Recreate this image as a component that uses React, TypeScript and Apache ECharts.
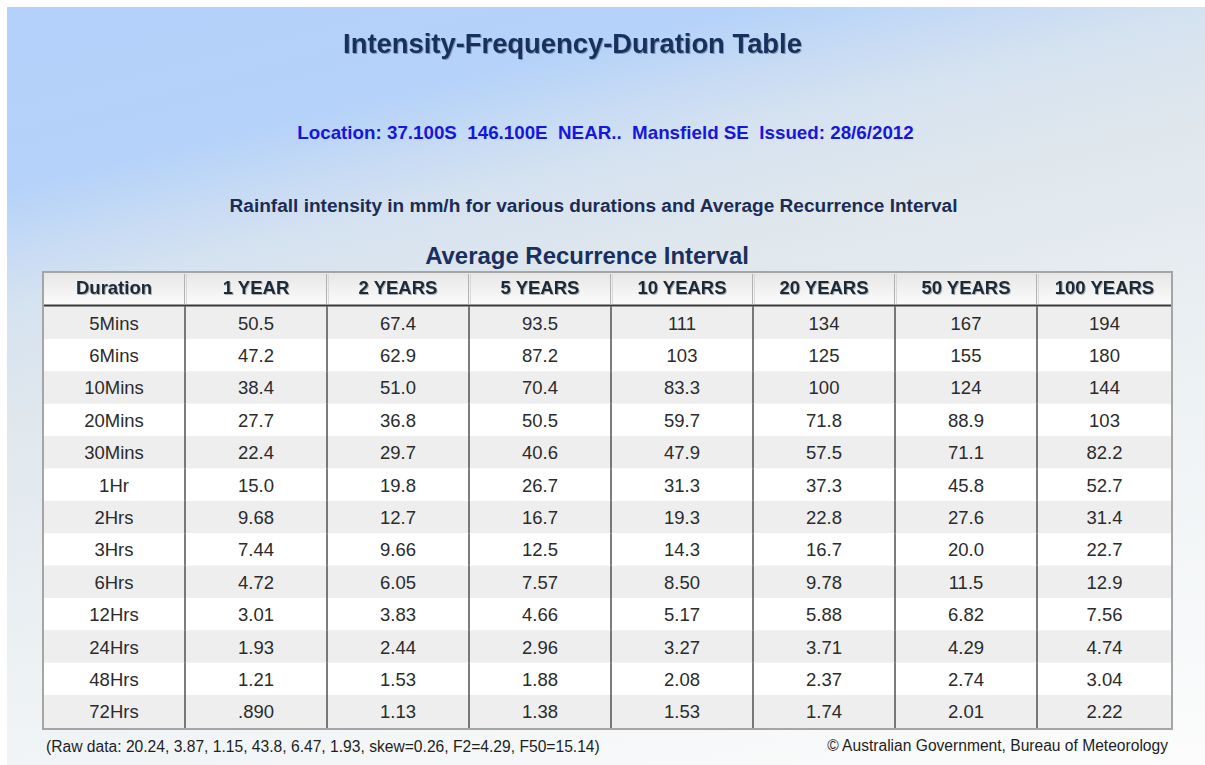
import React, { useEffect, useRef } from "react";
import * as echarts from "echarts";

// ---- texts ----
const TITLE = "Intensity-Frequency-Duration Table";
const LOCATION = "Location: 37.100S  146.100E  NEAR..  Mansfield SE  Issued: 28/6/2012";
const SUBTITLE = "Rainfall intensity in mm/h for various durations and Average Recurrence Interval";
const CAPTION = "Average Recurrence Interval";
const RAW_NOTE = "(Raw data: 20.24, 3.87, 1.15, 43.8, 6.47, 1.93, skew=0.26, F2=4.29, F50=15.14)";
const COPYRIGHT = "© Australian Government, Bureau of Meteorology";

// ---- data ----
const durationHeader = "Duration";
const recurrenceIntervals = ["1 YEAR", "2 YEARS", "5 YEARS", "10 YEARS", "20 YEARS", "50 YEARS", "100 YEARS"];
const durations = ["5Mins", "6Mins", "10Mins", "20Mins", "30Mins", "1Hr", "2Hrs", "3Hrs", "6Hrs", "12Hrs", "24Hrs", "48Hrs", "72Hrs"];
const ari1 = ["50.5", "47.2", "38.4", "27.7", "22.4", "15.0", "9.68", "7.44", "4.72", "3.01", "1.93", "1.21", ".890"];
const ari2 = ["67.4", "62.9", "51.0", "36.8", "29.7", "19.8", "12.7", "9.66", "6.05", "3.83", "2.44", "1.53", "1.13"];
const ari5 = ["93.5", "87.2", "70.4", "50.5", "40.6", "26.7", "16.7", "12.5", "7.57", "4.66", "2.96", "1.88", "1.38"];
const ari10 = ["111", "103", "83.3", "59.7", "47.9", "31.3", "19.3", "14.3", "8.50", "5.17", "3.27", "2.08", "1.53"];
const ari20 = ["134", "125", "100", "71.8", "57.5", "37.3", "22.8", "16.7", "9.78", "5.88", "3.71", "2.37", "1.74"];
const ari50 = ["167", "155", "124", "88.9", "71.1", "45.8", "27.6", "20.0", "11.5", "6.82", "4.29", "2.74", "2.01"];
const ari100 = ["194", "180", "144", "103", "82.2", "52.7", "31.4", "22.7", "12.9", "7.56", "4.74", "3.04", "2.22"];

const columnHeaders = [durationHeader, ...recurrenceIntervals];
const columns = [durations, ari1, ari2, ari5, ari10, ari20, ari50, ari100];

// ---- layout ----
const FONT = "'Liberation Sans', Arial, Helvetica, sans-serif";
const TABLE_LEFT = 43;
const TABLE_RIGHT = 1172;
const TABLE_TOP = 272;
const HEADER_H = 34;
const BODY_TOP = 306.5;
const BODY_BOTTOM = 727.5;
const TABLE_BOTTOM = 729;
const CELL_W = 142;

function fitSize(text: string, weight: string, width: number): number {
  const ctx = document.createElement("canvas").getContext("2d");
  if (!ctx) return 16;
  ctx.font = `${weight} 100px ${FONT}`;
  const w = ctx.measureText(text).width;
  return w > 0 ? (100 * width) / w : 16;
}

export default function App() {
  const ref = useRef<HTMLDivElement>(null);

  useEffect(() => {
    document.body.style.margin = "0";
    if (!ref.current) return;
    const chart = echarts.init(ref.current, null, { renderer: "svg" });

    const titleSize = fitSize(TITLE, "bold", 459);
    const locSize = fitSize(LOCATION, "bold", 617);
    const subSize = fitSize(SUBTITLE, "bold", 729);
    const capSize = fitSize(CAPTION, "bold", 324);
    const rawSize = fitSize(RAW_NOTE, "normal", 554);
    const copySize = fitSize(COPYRIGHT, "normal", 342);

    const bodyData: number[][] = [];
    for (let r = 0; r < durations.length; r++) {
      for (let c = 0; c < columns.length; c++) bodyData.push([c, r]);
    }
    const headerData = columnHeaders.map((_, c) => [c, 0]);

    const cellBox = (api: any) => {
      const c = api.value(0) as number;
      const r = api.value(1) as number;
      const pt = api.coord([c, r]);
      const sz = api.size([1, 1]);
      const x0 = pt[0] - sz[0] / 2;
      const x1 = Math.min(pt[0] + sz[0] / 2, TABLE_RIGHT);
      const y0 = pt[1] - sz[1] / 2;
      return { c, r, x0, x1, y0, h: sz[1], cy: pt[1] };
    };

    const bg = new echarts.graphic.LinearGradient(
      0, 0, 246, 1000,
      [
        { offset: 0, color: "#b3d1fb" },
        { offset: 0.18, color: "#b5d2f9" },
        { offset: 0.29, color: "#d5e2f0" },
        { offset: 0.39, color: "#dfe7ed" },
        { offset: 0.68, color: "#eff3f5" },
        { offset: 1, color: "#fcfcfc" },
      ],
      true
    );

    const option: any = {
      animation: false,
      grid: [
        { left: TABLE_LEFT, top: TABLE_TOP, width: CELL_W * columns.length, height: HEADER_H },
        { left: TABLE_LEFT, top: BODY_TOP, width: CELL_W * columns.length, height: BODY_BOTTOM - BODY_TOP },
      ],
      xAxis: [
        { type: "category", gridIndex: 0, data: columnHeaders, show: false },
        { type: "category", gridIndex: 1, data: columnHeaders, show: false },
      ],
      yAxis: [
        { type: "category", gridIndex: 0, data: ["header"], show: false },
        { type: "category", gridIndex: 1, data: durations, inverse: true, show: false },
      ],
      graphic: [
        { type: "rect", z: -10, shape: { x: 0, y: 0, width: 1205, height: 765 }, style: { fill: "#ffffff" } },
        { type: "rect", z: -9, shape: { x: 7, y: 7, width: 1198, height: 758 }, style: { fill: bg } },
        {
          type: "text", z: 5, x: 572.5, y: 43,
          style: {
            text: TITLE, fontFamily: FONT, fontWeight: "bold", fontSize: titleSize, fill: "#14305c",
            align: "center", verticalAlign: "middle",
            textShadowColor: "rgba(60,70,90,0.45)", textShadowBlur: 1, textShadowOffsetX: 1, textShadowOffsetY: 1,
          },
        },
        {
          type: "text", z: 5, x: 605.5, y: 132,
          style: {
            text: LOCATION, fontFamily: FONT, fontWeight: "bold", fontSize: locSize, fill: "#1616dc",
            align: "center", verticalAlign: "middle",
          },
        },
        {
          type: "text", z: 5, x: 593.5, y: 205,
          style: {
            text: SUBTITLE, fontFamily: FONT, fontWeight: "bold", fontSize: subSize, fill: "#1b2c54",
            align: "center", verticalAlign: "middle",
          },
        },
        {
          type: "text", z: 5, x: 587, y: 255,
          style: {
            text: CAPTION, fontFamily: FONT, fontWeight: "bold", fontSize: capSize, fill: "#1a2f5e",
            align: "center", verticalAlign: "middle",
          },
        },
        {
          type: "text", z: 5, x: 46, y: 746,
          style: {
            text: RAW_NOTE, fontFamily: FONT, fontSize: rawSize, fill: "#1e1e1e",
            align: "left", verticalAlign: "middle",
          },
        },
        {
          type: "text", z: 5, x: 1168, y: 745,
          style: {
            text: COPYRIGHT, fontFamily: FONT, fontSize: copySize, fill: "#1e1e1e",
            align: "right", verticalAlign: "middle",
          },
        },
        {
          type: "line", z: 100,
          shape: { x1: TABLE_LEFT, y1: 305.5, x2: TABLE_RIGHT, y2: 305.5 },
          style: { stroke: "#3a3a3a", lineWidth: 2 },
        },
        {
          type: "rect", z: 101,
          shape: { x: TABLE_LEFT, y: TABLE_TOP, width: TABLE_RIGHT - TABLE_LEFT, height: TABLE_BOTTOM - TABLE_TOP },
          style: { fill: "none", stroke: "#a5a5a5", lineWidth: 2 },
        },
      ],
      series: [
        {
          type: "custom",
          xAxisIndex: 0,
          yAxisIndex: 0,
          data: headerData,
          z: 3,
          renderItem: (params: any, api: any) => {
            const b = cellBox(api);
            const children: any[] = [
              {
                type: "rect",
                shape: { x: b.x0, y: b.y0, width: b.x1 - b.x0, height: b.h },
                style: {
                  fill: new echarts.graphic.LinearGradient(0, 0, 0, 1, [
                    { offset: 0, color: "#e6e6e6" },
                    { offset: 1, color: "#fcfcfc" },
                  ]),
                },
              },
              {
                type: "text",
                x: (b.x0 + b.x1) / 2,
                y: b.cy - 1.5,
                style: {
                  text: columnHeaders[b.c], fontFamily: FONT, fontWeight: "bold", fontSize: 18.5, fill: "#1c2a38",
                  align: "center", verticalAlign: "middle",
                  textShadowColor: "rgba(80,90,100,0.45)", textShadowBlur: 1, textShadowOffsetX: 1, textShadowOffsetY: 1,
                },
              },
            ];
            if (b.c > 0) {
              children.push(
                { type: "line", shape: { x1: b.x0 - 0.5, y1: b.y0 + 2, x2: b.x0 - 0.5, y2: b.y0 + b.h - 2 }, style: { stroke: "#b0b0b0", lineWidth: 1 } },
                { type: "line", shape: { x1: b.x0 + 1.5, y1: b.y0 + 2, x2: b.x0 + 1.5, y2: b.y0 + b.h - 2 }, style: { stroke: "#d8d8d8", lineWidth: 1 } }
              );
            }
            return { type: "group", children };
          },
        },
        {
          type: "custom",
          xAxisIndex: 1,
          yAxisIndex: 1,
          data: bodyData,
          z: 2,
          renderItem: (params: any, api: any) => {
            const b = cellBox(api);
            const children: any[] = [
              {
                type: "rect",
                shape: { x: b.x0, y: b.y0, width: b.x1 - b.x0, height: b.h + 0.5 },
                style: { fill: b.r % 2 === 0 ? "#eeeeee" : "#ffffff" },
              },
              {
                type: "text",
                x: (b.x0 + b.x1) / 2,
                y: b.cy + 0.5,
                style: {
                  text: columns[b.c][b.r], fontFamily: FONT, fontSize: 18.5, fill: "#2b2b2b",
                  align: "center", verticalAlign: "middle",
                },
              },
            ];
            if (b.c > 0) {
              children.push({
                type: "line",
                shape: { x1: b.x0, y1: b.y0, x2: b.x0, y2: b.y0 + b.h + 0.5 },
                style: { stroke: "#505050", lineWidth: 1.5 },
              });
            }
            return { type: "group", children };
          },
        },
      ],
    };

    chart.setOption(option);
    return () => chart.dispose();
  }, []);

  return <div ref={ref} style={{ width: 1205, height: 765 }} />;
}
